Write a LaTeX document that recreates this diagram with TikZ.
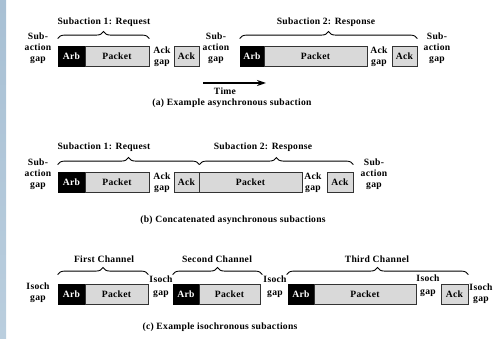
\documentclass[tikz,border=0pt]{standalone}
\usepackage{fontspec}
\setmainfont{Liberation Serif}[LetterSpace=3]
\usetikzlibrary{decorations.pathreplacing,arrows.meta}

\definecolor{stripTop}{RGB}{168,192,212}
\definecolor{stripBot}{RGB}{186,206,222}

\tikzset{
  txt/.style={font=\fontsize{9.6}{11.2}\selectfont\bfseries, inner sep=0pt, align=center},
  cell/.style={txt, draw=black!80, line width=0.8pt, minimum height=20pt, inner sep=0pt},
  arbbox/.style={cell, fill=black, draw=black, text=white},
  pktbox/.style={cell, fill=black!15},
  brc/.style={decorate, decoration={brace, amplitude=7pt}, line width=0.9pt},
  timearrow/.style={line width=1.3pt, -{Stealth[length=9pt,width=6pt]}},
}

\begin{document}
\begin{tikzpicture}[x=1pt,y=-1pt]
\useasboundingbox (0,0) rectangle (499,339);
% side strip
\shade[top color=stripTop, bottom color=stripBot] (0,0) rectangle (6,339);

% ---------- (a) single asynchronous subaction ----------
\node[arbbox, minimum width=27pt]  (a1arb) at (71.5,56) {Arb};
\node[pktbox, minimum width=64pt]  (a1pkt) at (117,56) {Packet};
\node[pktbox, minimum width=25pt]  (a1ack) at (186.5,56) {Ack};
\node[arbbox, minimum width=24pt]  (a2arb) at (252,56) {Arb};
\node[pktbox, minimum width=103pt] (a2pkt) at (315.5,56) {Packet};
\node[pktbox, minimum width=25pt]  (a2ack) at (404.5,56) {Ack};

\node[txt] (agap0) at (38,48)   {Sub-\\action\\gap};
\node[txt] (aack1) at (162,57)  {Ack\\gap};
\node[txt] (agap1) at (216,48)  {Sub-\\action\\gap};
\node[txt] (aack2) at (379,57)  {Ack\\gap};
\node[txt] (agap2) at (437,48)  {Sub-\\action\\gap};

\draw[brc] ([yshift=7pt]a1arb.north west) -- ([yshift=7pt]a1pkt.north east);
\draw[brc] ([yshift=7pt]a2arb.north west) -- ([yshift=7pt]a2ack.north east);
\node[txt] (areq) at (104,22) {Subaction 1: Request};
\node[txt] (ares) at (326,22) {Subaction 2: Response};

\coordinate (t0) at (203,83);
\coordinate (t1) at (266,83);
\draw[timearrow] (t0) -- (t1);
\node[txt] (time) at (225,91.5) {Time};
\node[txt] (capa) at (232,103) {(a) Example asynchronous subaction};

% ---------- (b) concatenated subactions ----------
\node[arbbox, minimum width=27pt]  (b1arb) at (71.5,182) {Arb};
\node[pktbox, minimum width=64pt]  (b1pkt) at (117,182) {Packet};
\node[pktbox, minimum width=25pt]  (b1ack) at (186.5,182) {Ack};
\node[pktbox, minimum width=103pt] (b2pkt) at (250.5,182) {Packet};
\node[pktbox, minimum width=26pt]  (b2ack) at (340,182) {Ack};

\node[txt] (bgap0) at (38,174.5)  {Sub-\\action\\gap};
\node[txt] (back1) at (162,183)   {Ack\\gap};
\node[txt] (back2) at (313,183)   {Ack\\gap};
\node[txt] (bgap1) at (374,174.5) {Sub-\\action\\gap};

\draw[brc] ([yshift=7pt]b1arb.north west) -- ([yshift=7pt]b1ack.north east);
\draw[brc] ([yshift=7pt]b1ack.north east) -- ([yshift=7pt]b2ack.north east);
\node[txt] (breq) at (104,147) {Subaction 1: Request};
\node[txt] (bres) at (263,147) {Subaction 2: Response};
\node[txt] (capb) at (233,220) {(b) Concatenated asynchronous subactions};

% ---------- (c) isochronous subactions ----------
\node[arbbox, minimum width=27pt]  (c1arb) at (71.5,294) {Arb};
\node[pktbox, minimum width=63pt]  (c1pkt) at (116.5,294) {Packet};
\node[arbbox, minimum width=26pt]  (c2arb) at (186,294) {Arb};
\node[pktbox, minimum width=61pt]  (c2pkt) at (229.5,294) {Packet};
\node[arbbox, minimum width=26pt]  (c3arb) at (301,294) {Arb};
\node[pktbox, minimum width=102pt] (c3pkt) at (365,294) {Packet};
\node[pktbox, minimum width=27pt]  (c3ack) at (454.5,294) {Ack};

\node[txt] (cgap0) at (38,292.5)  {Isoch\\gap};
\node[txt] (cgap1) at (161,286.5) {Isoch\\[2pt]gap};
\node[txt] (cgap2) at (275,286.5) {Isoch\\[2pt]gap};
\node[txt] (cgap3) at (428,285.5) {Isoch\\[2pt]gap};
\node[txt] (cgap4) at (481,293.5) {Isoch\\gap};

\draw[brc] ([yshift=9pt]c1arb.north west) -- ([yshift=9pt]c1pkt.north east);
\draw[brc] ([yshift=9pt]c2arb.north west) -- ([yshift=9pt,xshift=2pt]c2pkt.north east);
\draw[brc] ([yshift=9pt,xshift=-1pt]c3arb.north west) -- ([yshift=9pt]c3ack.north east);
\node[txt] (cch1) at (104,259) {First Channel};
\node[txt] (cch2) at (217,259) {Second Channel};
\node[txt] (cch3) at (377,259) {Third Channel};
\node[txt] (capc) at (220,327) {(c) Example isochronous subactions};
\end{tikzpicture}
\end{document}
